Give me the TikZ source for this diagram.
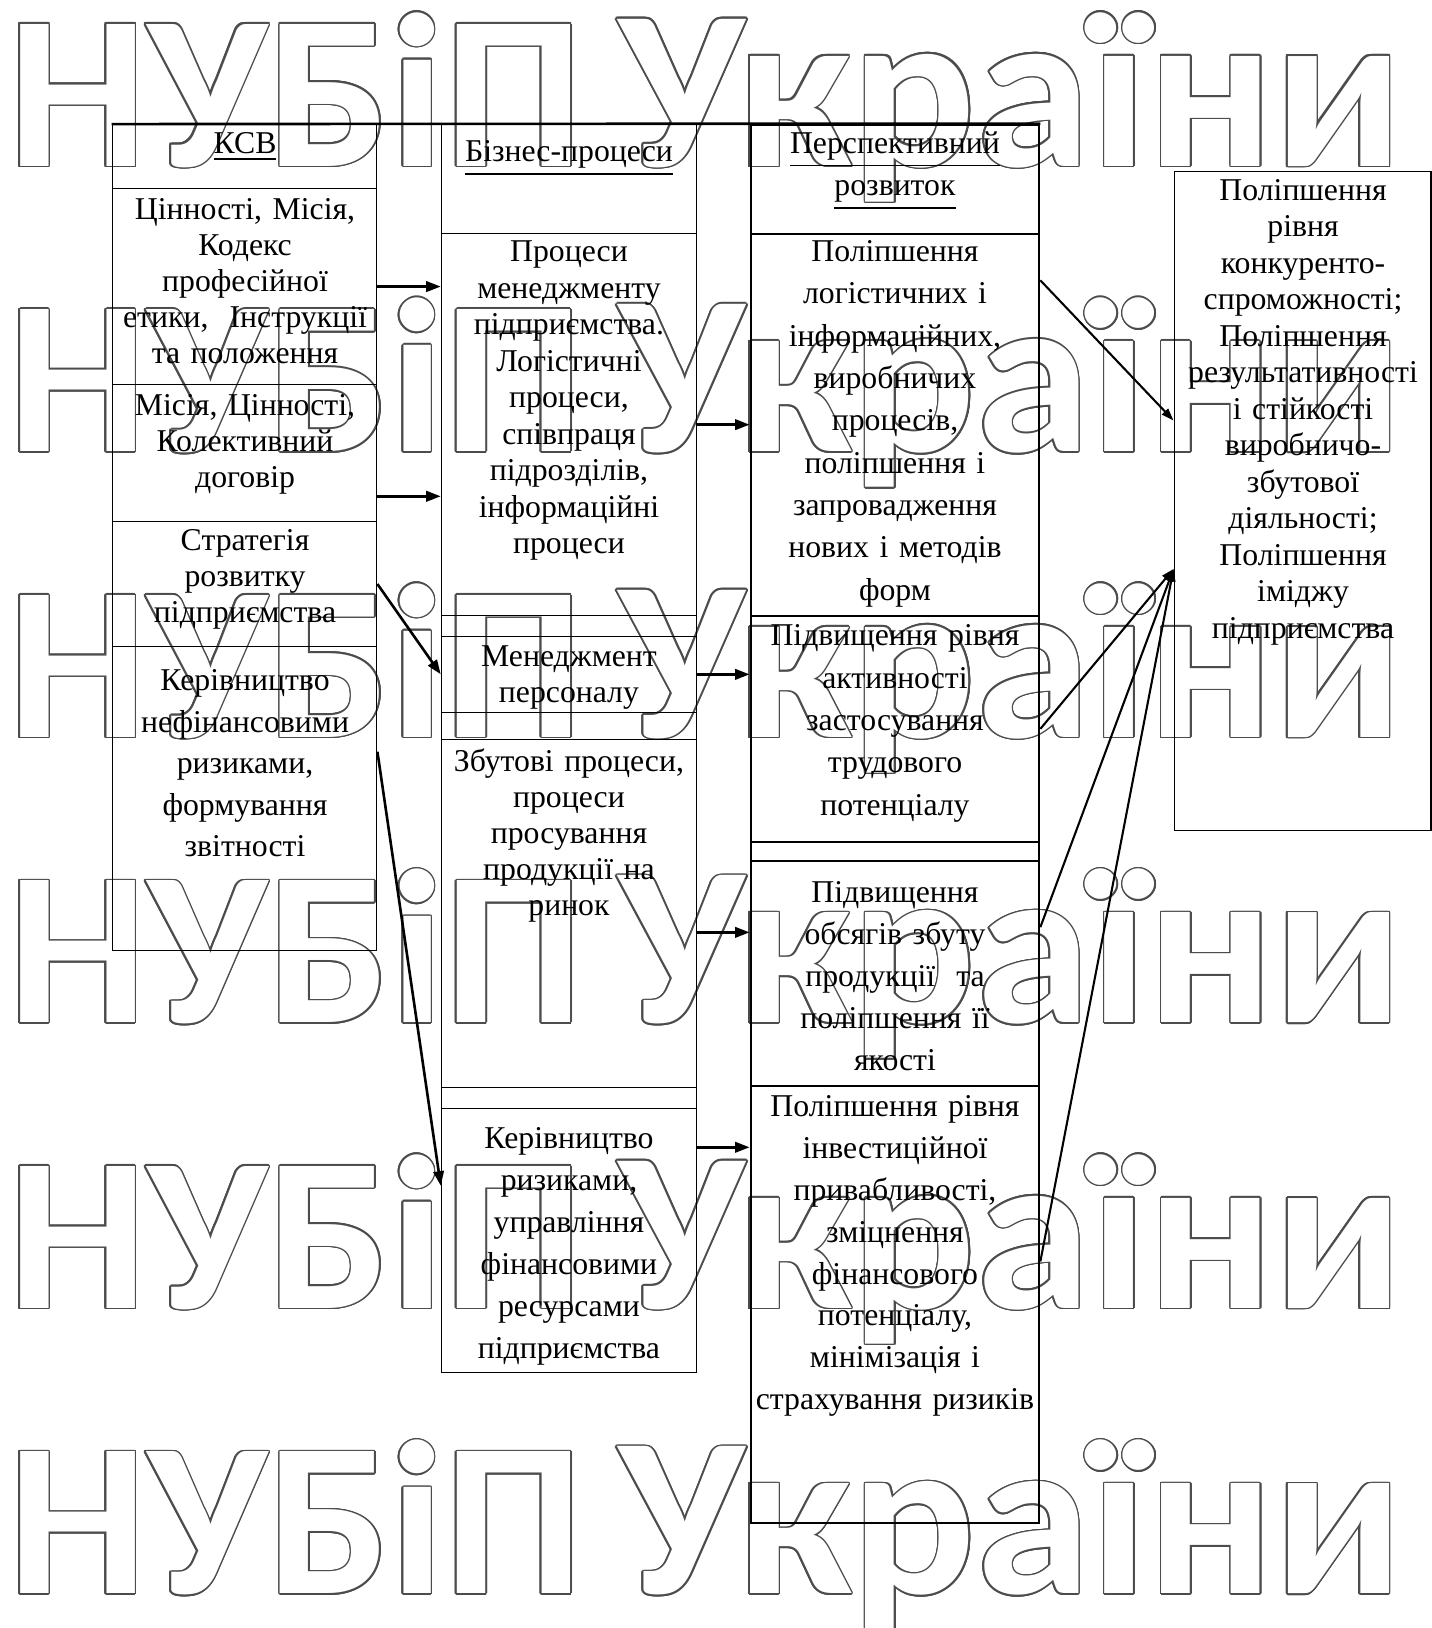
\documentclass[tikz,border=0pt]{standalone}
\usepackage{fontspec}
\setmainfont{Liberation Serif}
\newfontfamily\wmfont{Carlito}
\usetikzlibrary{arrows.meta,fit,calc}
\tikzset{
  cell/.style ={draw,inner sep=0pt,line width=0.1mm},
  hcell/.style={cell,line width=0.2mm},
  txt/.style  ={align=center,text width=30mm,inner sep=0pt,anchor=base,
                font=\fontsize{8.7}{#1}\selectfont},
  txt/.default=10,
  arr/.style  ={-{Triangle[length=1.4mm,width=1.0mm]},line width=0.25mm},
  link/.style ={-{Triangle[length=1.2mm,width=0.8mm]},line width=0.2mm},
  wm/.style   ={anchor=base west,inner sep=0pt},
}
\newcommand{\wmleft}{\resizebox{55.4mm}{14.8mm}{\wmfont\bfseries НУБіП}}
\newcommand{\wmright}{\resizebox{75.5mm}{14.8mm}{\wmfont\bfseries України}}

\begin{document}
\begin{tikzpicture}[x=1mm,y=-1mm]
\useasboundingbox (0,0) rectangle (137.9,156.8);

% watermark rows (outlined)
\foreach \r in {1,...,6}{
  \foreach \i in {1,...,16}{
    \node[wm,text=black!70] (wmlc\r-\i) at ($(0.7,-11.5+27.5*\r)+(\i*22.5:0.16mm)$) {\wmleft};
    \node[wm,text=black!70] (wmrc\r-\i) at ($(59.5,-11.5+27.5*\r)+(\i*22.5:0.16mm)$) {\wmright};}
  \node[wm,text=white] (wml\r) at (0.7,-11.5+27.5*\r) {\wmleft};
  \node[wm,text=white] (wmr\r) at (59.5,-11.5+27.5*\r) {\wmright};
}

% column 1
\node[cell,fit={(10.8,12.0) (36.3,18.2)}]  (k0) {};
\node[cell,fit={(10.8,18.2) (36.3,37.0)}]  (k1) {};
\node[cell,fit={(10.8,37.0) (36.3,50.2)}]  (k2) {};
\node[cell,fit={(10.8,50.2) (36.3,62.3)}]  (k3) {};
\node[cell,fit={(10.8,62.3) (36.3,91.5)}]  (k4) {};

% column 2
\node[cell,fit={(42.5,12.0) (67.1,132.2)}] (pc) {};
\node[cell,fit={(42.5,12.0) (67.1,22.5)}]  (p0) {};
\node[cell,fit={(42.5,22.5) (67.1,59.3)}]  (p1) {};
\node[cell,fit={(42.5,61.3) (67.1,68.6)}]  (p2) {};
\node[cell,fit={(42.5,71.2) (67.1,104.7)}] (p3) {};
\node[cell,fit={(42.5,106.8) (67.1,132.2)}] (p4) {};

% column 3
\node[hcell,fit={(72.3,12.0) (100.1,146.7)}] (rc) {};
\node[hcell,fit={(72.3,12.0) (100.1,22.5)}]  (r0) {};
\node[hcell,fit={(72.3,22.5) (100.1,59.3)}]  (r1) {};
\node[hcell,fit={(72.3,59.3) (100.1,81.1)}]  (r2) {};
\node[hcell,fit={(72.3,82.9) (100.1,104.6)}] (r3) {};
\node[hcell,fit={(72.3,104.6) (100.1,146.7)}] (r4) {};

% result box
\node[cell,line width=0.15mm,fit={(113.1,16.5) (137.8,80.0)}] (c1) {};

\draw[line width=0.25mm] (k0.north west) -- (r0.north east);

% texts
\node[txt] (k0t) at (23.6,14.8) {\underline{КСВ}};
\node[txt=9.9] (k1t) at (23.6,21.1)
  {Цінності, Місія,\\Кодекс\\професійної\\етики,\ \ Інструкції\\та положення};
\node[txt=9.9] (k2t) at (23.6,40.0) {Місія, Цінності,\\Колективний\\договір};
\node[txt=9.9] (k3t) at (23.6,53.0) {Стратегія\\розвитку\\підприємства};
\node[txt=11.4] (k4t) at (23.6,66.5)
  {Керівництво\\нефінансовими\\ризиками,\\формування\\звітності};

\node[txt] (p0t) at (54.8,15.6) {\underline{Бізнес-процеси}};
\node[txt] (p1t) at (54.8,25.2)
  {Процеси\\менеджменту\\підприємства.\\Логістичні\\процеси,\\співпраця\\підрозділів,\\інформаційні\\процеси};
\node[txt=9.9] (p2t) at (54.8,64.2) {Менеджмент\\персоналу};
\node[txt=9.9] (p3t) at (54.8,74.3)
  {Збутові процеси,\\процеси\\просування\\продукції на\\ринок};
\node[txt=11.5] (p4t) at (54.8,110.6)
  {Керівництво\\ризиками,\\управління\\фінансовими\\ресурсами\\підприємства};

\node[txt=11.6] (r0t) at (86.2,14.8) {\underline{Перспективний}\\\underline{розвиток}};
\node[txt=11.6] (r1t) at (86.2,25.2)
  {Поліпшення\\логістичних і\\інформаційних,\\виробничих\\процесів,\\поліпшення і\\запровадження\\нових і методів\\форм};
\node[txt=11.6] (r2t) at (86.2,62.2)
  {Підвищення рівня\\активності\\застосування\\трудового\\потенціалу};
\node[txt=11.5] (r3t) at (86.2,86.9)
  {Підвищення\\обсягів збуту\\продукції\ \ та\\поліпшення її\\якості};
\node[txt=11.5] (r4t) at (86.2,107.5)
  {Поліпшення рівня\\інвестиційної\\привабливості,\\зміцнення\\фінансового\\потенціалу,\\мінімізація і\\страхування ризиків};

\node[txt] (c1t) at (125.5,19.3)
  {Поліпшення\\рівня\\конкуренто-\\спроможності;\\Поліпшення\\результативності\\і стійкості\\виробничо-\\збутової\\діяльності;\\Поліпшення\\іміджу\\підприємства};

% arrows
\coordinate (ya) at (0,47.8);
\coordinate (yb) at (0,72.4);
\coordinate (yc) at (0,114.2);
\coordinate (yd) at (0,89.8);
\coordinate (ye) at (0,110.5);
\coordinate (yf) at (0,27.0);
\coordinate (yg) at (0,40.5);
\coordinate (yh) at (0,54.8);
\coordinate (yi) at (0,89.3);
\coordinate (yj) at (0,121.5);

\draw[arr] (k1.east) -- (p1.west |- k1.east);
\draw[arr] (k2.east |- ya) -- (p1.west |- ya);
\draw[arr] (k3.east) -- (p2.west);
\draw[arr] (k4.east |- yb) -- (p4.west |- yc);
\draw[arr] (p1.east) -- (r1.west |- p1.east);
\draw[arr] (p2.east) -- (r2.west |- p2.east);
\draw[arr] (p3.east |- yd) -- (r3.west |- yd);
\draw[arr] (p4.east |- ye) -- (r4.west |- ye);
\draw[link] (r1.east |- yf) -- (c1.west |- yg);
\draw[link] (r2.east) -- (c1.west |- yh);
\draw[link] (r3.east |- yi) -- (c1.west |- yh);
\draw[link] (r4.east |- yj) -- (c1.west |- yh);
\end{tikzpicture}
\end{document}
